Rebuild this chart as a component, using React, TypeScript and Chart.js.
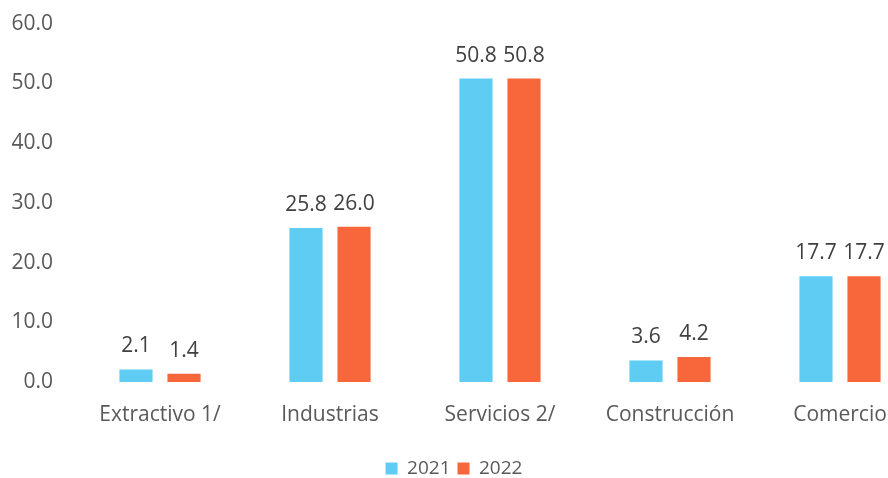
import React, { useEffect, useRef } from "react";
import { Chart, registerables } from "chart.js";

Chart.register(...registerables);

const categories = ["Extractivo 1/", "Industrias", "Servicios 2/", "Construcción", "Comercio"];
const series2021 = [2.1, 25.8, 50.8, 3.6, 17.7];
const series2022 = [1.4, 26.0, 50.8, 4.2, 17.7];
const seriesLabels = ["2021", "2022"];
const colors = ["#5fcdf3", "#f8663c"];

const FONT = "'Open Sans', 'Noto Sans', sans-serif";
const FS = 21;

const valueLabels = {
  id: "valueLabels",
  afterDatasetsDraw(chart: any) {
    const ctx = chart.ctx;
    ctx.save();
    ctx.font = `${FS}px ${FONT}`;
    ctx.fillStyle = "#404040";
    ctx.textAlign = "center";
    ctx.textBaseline = "alphabetic";
    chart.data.datasets.forEach((ds: any, i: number) => {
      const meta = chart.getDatasetMeta(i);
      meta.data.forEach((bar: any, j: number) => {
        ctx.fillText(Number(ds.data[j]).toFixed(1), bar.x, bar.y - 17);
      });
    });
    ctx.restore();
  },
};

export default function App() {
  const ref = useRef<HTMLCanvasElement | null>(null);
  useEffect(() => {
    if (!ref.current) return;
    const chart = new Chart(ref.current, {
      type: "bar",
      data: {
        labels: categories,
        datasets: [
          { label: seriesLabels[0], data: series2021, backgroundColor: colors[0], barPercentage: 0.69, categoryPercentage: 0.565 },
          { label: seriesLabels[1], data: series2022, backgroundColor: colors[1], barPercentage: 0.69, categoryPercentage: 0.565 },
        ],
      },
      options: {
        animation: false,
        responsive: false,
        layout: { padding: { top: 0, bottom: 0, left: 0, right: 0 } },
        plugins: {
          legend: {
            position: "bottom",
            labels: {
              boxWidth: 12,
              boxHeight: 12,
              padding: 7,
              color: "#595959",
              font: { family: FONT, size: 19 },
            },
          },
          tooltip: { enabled: false },
        },
        scales: {
          x: {
            grid: { display: false, drawTicks: false },
            border: { display: false },
            ticks: { color: "#595959", font: { family: FONT, size: FS }, padding: 20 },
            afterFit: (s: any) => {
              s.height = 70;
            },
          },
          y: {
            min: 0,
            max: 60,
            grid: { display: false, drawTicks: false },
            border: { display: false },
            ticks: {
              stepSize: 10,
              color: "#595959",
              font: { family: FONT, size: FS },
              padding: 22,
              callback: (v: any) => Number(v).toFixed(1),
            },
            afterFit: (s: any) => {
              s.width = 92;
            },
          },
        },
      },
      plugins: [valueLabels],
    });
    return () => chart.destroy();
  }, []);
  return (
    <div style={{ position: "absolute", left: 0, top: 0, width: 888, height: 478, overflow: "hidden", background: "#fff" }}>
      <canvas
        ref={ref}
        width={942}
        height={499}
        style={{ display: "block", position: "absolute", left: -17, top: -11 }}
      />
    </div>
  );
}
